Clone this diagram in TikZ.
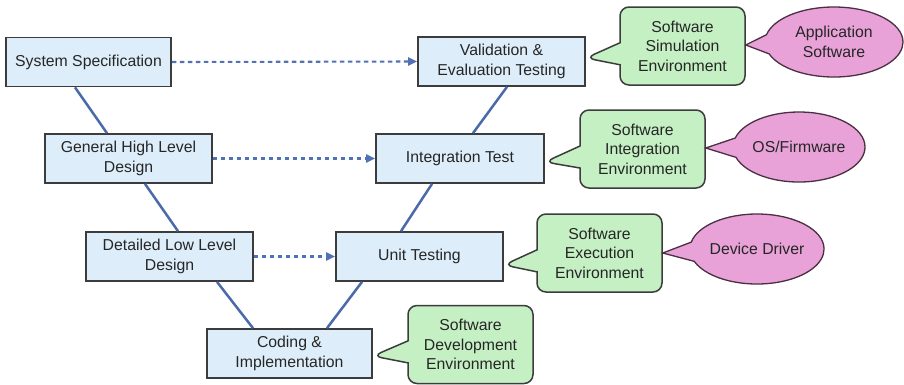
\documentclass[tikz,border=0pt]{standalone}
\usepackage{fontspec}
\setmainfont{Liberation Sans}
\usetikzlibrary{shapes.callouts,shapes.geometric,arrows.meta}
\definecolor{boxblue}{HTML}{DDEEFA}
\definecolor{boxgreen}{HTML}{C4F0C4}
\definecolor{boxpink}{HTML}{E8A2D8}
\definecolor{linkblue}{HTML}{4A6AAA}
\definecolor{dashblue}{HTML}{5072B4}
\definecolor{edgegray}{HTML}{3C3C3C}
\definecolor{pinkedge}{HTML}{4A3042}
\begin{document}
\begin{tikzpicture}[x=1pt,y=-1pt,
  every node/.style={font=\fontsize{15.8}{19.5}\selectfont, text=black!85, align=center, inner sep=0pt},
  stage/.style={draw=edgegray, line width=1.7pt, fill=boxblue, minimum height=49pt},
  env/.style={rectangle callout, draw=edgegray, line width=1.5pt, fill=boxgreen, rounded corners=9pt,
    minimum width=125pt, minimum height=78pt, callout pointer width=22pt},
  sw/.style={ellipse callout, draw=pinkedge, line width=1.3pt, fill=boxpink,
    minimum width=134pt, minimum height=70pt, callout pointer arc=32},
  vlink/.style={draw=linkblue, line width=2.5pt},
  trace/.style={draw=dashblue, line width=2.1pt, dash pattern=on 4.5pt off 3.5pt, -{Triangle[length=9pt,width=8pt]}}
]
\fill[white] (0,0) rectangle (904,384);
\useasboundingbox (0,0) rectangle (904,384);

% V-model stages
\node[stage, minimum width=165pt] (sys) at (88.5,62) {System Specification};
\node[stage, minimum width=167pt] (gen) at (128.5,158.5) {General High Level\\Design};
\node[stage, minimum width=167pt] (det) at (169.5,256.5) {Detailed Low Level\\Design};
\node[stage, minimum width=165pt] (cod) at (289.5,353.5) {Coding \&\\Implementation};
\node[stage, minimum width=167pt] (unit) at (419.5,256.5) {Unit Testing};
\node[stage, minimum width=168pt] (integ) at (460,158.5) {Integration Test};
\node[stage, minimum width=167pt] (val) at (501.5,61.5) {Validation \&\\Evaluation Testing};

% V connectors
\draw[vlink] ([xshift=-13.5pt]sys.south) -- ([xshift=-21.5pt]gen.north);
\draw[vlink] ([xshift=16.5pt]gen.south) -- ([xshift=8.5pt]det.north);
\draw[vlink] ([xshift=47.5pt]det.south) -- ([xshift=-36.5pt]cod.north);
\draw[vlink] ([xshift=37.5pt]cod.north) -- ([xshift=-57.5pt]unit.south);
\draw[vlink] ([xshift=-18.5pt]unit.north) -- ([xshift=-28pt]integ.south);
\draw[vlink] ([xshift=13pt]integ.north) -- ([xshift=5.5pt]val.south);

% dashed traces
\draw[trace] (sys.east) -- (val.west);
\draw[trace] (gen.east) -- (integ.west);
\draw[trace] (det.east) -- (unit.west);

% environments
\node[env, callout absolute pointer={([yshift=3.5pt]val.east)}] (simenv) at (682.5,46) {Software\\Simulation\\Environment};
\node[env, callout absolute pointer={([yshift=-3.5pt]integ.east)}] (intenv) at (642.5,149) {Software\\Integration\\Environment};
\node[env, callout absolute pointer={([yshift=-8.5pt]unit.east)}] (exeenv) at (599.5,253) {Software\\Execution\\Environment};
\node[env, callout absolute pointer={([yshift=-2.5pt]cod.east)}] (devenv) at (470.5,344.5) {Software\\Development\\Environment};

% software layers
\node[sw, minimum width=138pt, callout absolute pointer={([yshift=1pt]simenv.east)}] (app) at (834,42) {Application\\Software};
\node[sw, minimum width=132pt, callout absolute pointer={([yshift=1pt]intenv.east)}] (os) at (799,147) {OS/Firmware};
\node[sw, callout absolute pointer={(exeenv.east)}] (drv) at (757,249) {Device Driver};
\end{tikzpicture}
\end{document}
